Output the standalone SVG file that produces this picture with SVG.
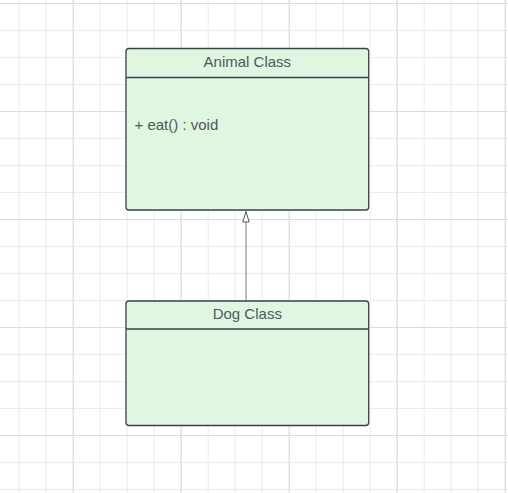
<svg xmlns="http://www.w3.org/2000/svg" width="508" height="493" viewBox="0 0 508 493">
<defs>
<pattern id="minor" x="18.7" y="3" width="27" height="27" patternUnits="userSpaceOnUse">
<path d="M0.5 0V27M0 0.5H27" fill="none" stroke="#ebebeb" stroke-width="1"/>
</pattern>
<pattern id="major" x="72.7" y="111" width="108" height="108" patternUnits="userSpaceOnUse">
<path d="M0.5 0V108M0 0.5H108" fill="none" stroke="#dcdcdc" stroke-width="1"/>
</pattern>
<marker id="tri" markerWidth="13" markerHeight="9" refX="11.5" refY="4.5" orient="auto" markerUnits="userSpaceOnUse" viewBox="0 0 13 9">
<path d="M11.5 4.5L1 1.3V7.7Z" fill="#ffffff" stroke="#555b60" stroke-width="1"/>
</marker>
<style>
.box{fill:#dff7e0;stroke:#3a4149;stroke-width:1.3}
.div{stroke:#3a4149;stroke-width:1.3}
.t{font-family:"Liberation Sans",Arial,sans-serif;font-size:15px;fill:#4f575e}
.c{text-anchor:middle}
.edge{stroke:#8a8d90;stroke-width:1.2;fill:none}
</style>
</defs>
<rect width="508" height="493" fill="#ffffff"/>
<rect width="508" height="493" fill="url(#minor)"/>
<rect width="508" height="493" fill="url(#major)"/>
<g id="connectors">
<line class="edge" x1="246" y1="301" x2="246" y2="211.5" marker-end="url(#tri)"/>
</g>
<g id="animal">
<rect class="box" x="126" y="48.5" width="242.7" height="161.5" rx="3"/>
<line class="div" x1="126" y1="77.5" x2="368.7" y2="77.5"/>
<text class="t c" x="247.3" y="66.5">Animal Class</text>
<text class="t" x="134.5" y="130">+ eat() : void</text>
</g>
<g id="dog">
<rect class="box" x="126" y="301" width="242.7" height="124.5" rx="3"/>
<line class="div" x1="126" y1="329" x2="368.7" y2="329"/>
<text class="t c" x="247.3" y="318.5">Dog Class</text>
</g>
</svg>
